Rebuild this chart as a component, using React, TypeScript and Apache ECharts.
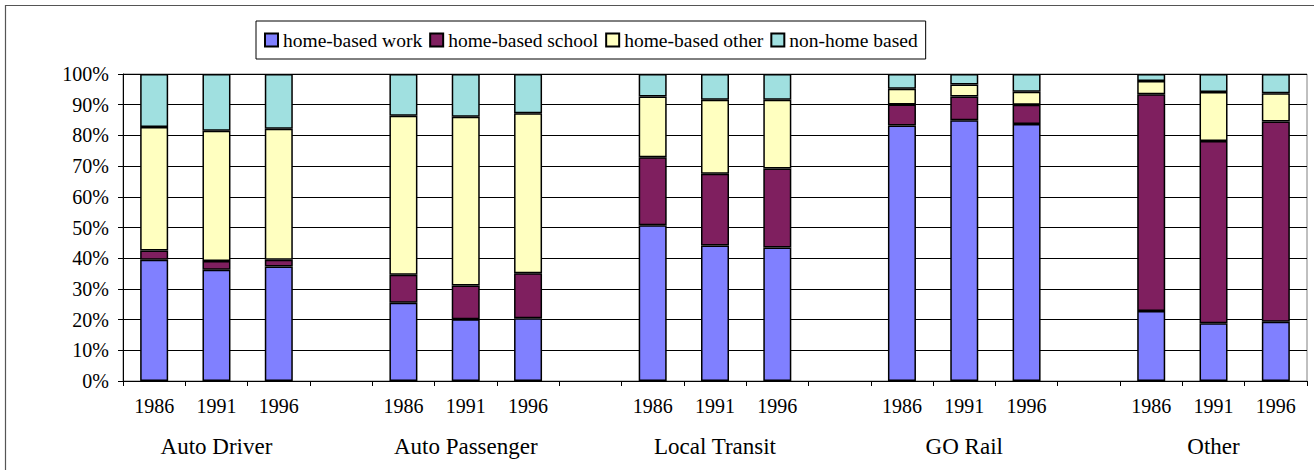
import React, { useEffect, useRef } from "react";
import * as echarts from "echarts";

const yearLabels = [
  "1986", "1991", "1996", "",
  "1986", "1991", "1996", "",
  "1986", "1991", "1996", "",
  "1986", "1991", "1996", "",
  "1986", "1991", "1996",
];
const groupLabels = [
  "", "Auto Driver", "", "",
  "", "Auto Passenger", "", "",
  "", "Local Transit", "", "",
  "", "GO Rail", "", "",
  "", "Other", "",
];
const seriesNames = ["home-based work", "home-based school", "home-based other", "non-home based"];
const homeBasedWork = [39.5, 36.2, 37.3, null, 25.5, 20.1, 20.4, null, 50.7, 44.1, 43.5, null, 83.2, 84.9, 83.7, null, 22.8, 18.8, 19.3];
const homeBasedSchool = [3.0, 2.9, 2.2, null, 9.1, 11.0, 14.7, null, 22.2, 23.4, 25.7, null, 6.9, 7.8, 6.3, null, 70.6, 59.4, 65.2];
const homeBasedOther = [40.2, 42.4, 42.7, null, 51.8, 55.0, 52.1, null, 19.8, 24.1, 22.4, null, 5.1, 3.9, 4.2, null, 4.3, 15.9, 9.2];
const nonHomeBased = [17.3, 18.5, 17.8, null, 13.6, 13.9, 12.8, null, 7.3, 8.4, 8.4, null, 4.8, 3.4, 5.8, null, 2.3, 5.9, 6.3];
const seriesColors = ["#8080FF", "#7F1F5F", "#FFFFC0", "#A0E0E0"];

const FONT = "Liberation Serif";

export default function App() {
  const ref = useRef<HTMLDivElement>(null);
  useEffect(() => {
    if (!ref.current) return;
    const chart = echarts.init(ref.current, undefined, { renderer: "svg" });
    const values = [homeBasedWork, homeBasedSchool, homeBasedOther, nonHomeBased];
    chart.setOption({
      animation: false,
      backgroundColor: "#ffffff",
      textStyle: { fontFamily: FONT, color: "#000" },
      graphic: [
        {
          type: "rect",
          shape: { x: 5.5, y: 5.5, width: 1330, height: 480 },
          style: { fill: "none", stroke: "#555", lineWidth: 1.2 },
          silent: true,
          z: -1,
        },
      ],
      legend: {
        left: 256,
        top: 21,
        orient: "horizontal",
        itemWidth: 13,
        itemHeight: 13,
        itemGap: 7,
        padding: [9, 8, 9, 8],
        borderColor: "#000",
        borderWidth: 1,
        icon: "rect",
        textStyle: { fontFamily: FONT, fontSize: 19.5, color: "#000" },
        data: seriesNames,
      },
      grid: {
        left: 123,
        right: 7,
        top: 74,
        bottom: 89,
        show: true,
        borderColor: "#808080",
        borderWidth: 1,
        backgroundColor: "transparent",
      },
      xAxis: [
        {
          type: "category",
          data: yearLabels,
          axisLine: { show: true, lineStyle: { color: "#000", width: 1 } },
          axisTick: { show: true, length: 5, lineStyle: { color: "#000" } },
          axisLabel: { interval: 0, margin: 15, fontSize: 20, fontFamily: FONT, color: "#000" },
          splitLine: { show: false },
        },
        {
          type: "category",
          data: groupLabels,
          position: "bottom",
          axisLine: { show: false },
          axisTick: { show: false },
          axisLabel: { interval: 0, margin: 54, fontSize: 23, fontFamily: FONT, color: "#000" },
          splitLine: { show: false },
        },
      ],
      yAxis: {
        type: "value",
        min: 0,
        max: 100,
        interval: 10,
        axisLine: { show: true, lineStyle: { color: "#000", width: 1 } },
        axisTick: { show: true, length: 5, lineStyle: { color: "#000" } },
        axisLabel: { formatter: "{value}%", margin: 14, fontSize: 20, fontFamily: FONT, color: "#000" },
        splitLine: { show: true, lineStyle: { color: "#000", width: 1 } },
      },
      series: seriesNames.map((name, i) => ({
        name,
        type: "bar",
        stack: "total",
        xAxisIndex: 0,
        barWidth: 28,
        data: values[i],
        itemStyle: { color: seriesColors[i], borderColor: "#000", borderWidth: 1.5 },
      })),
    });
    return () => chart.dispose();
  }, []);
  return (
    <div
      ref={ref}
      style={{ position: "fixed", left: 0, top: 0, width: 1314, height: 470 }}
    />
  );
}
